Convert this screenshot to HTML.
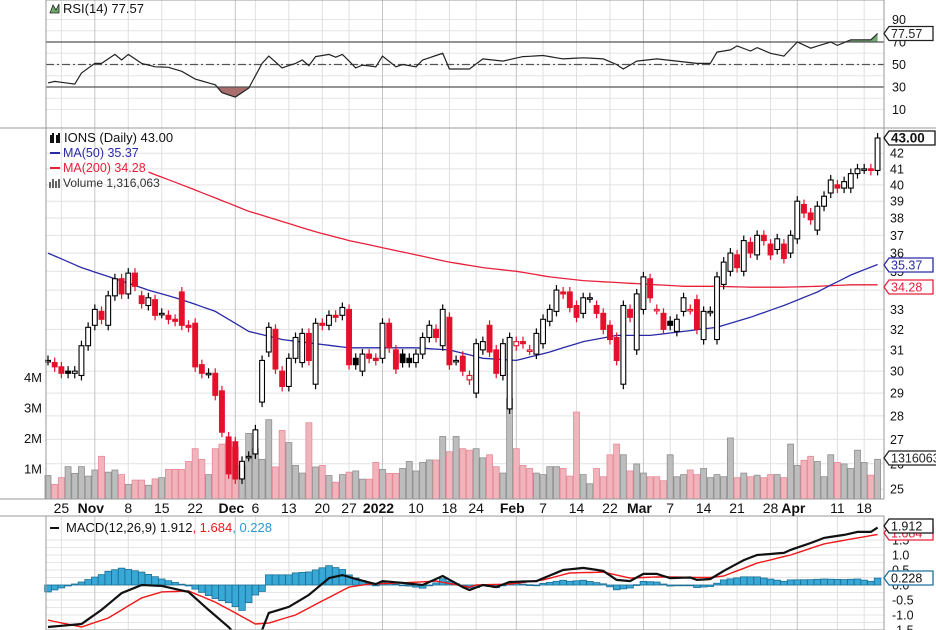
<!DOCTYPE html>
<html><head><meta charset="utf-8"><style>
html,body{margin:0;padding:0;background:#fff;}
svg{display:block;font-family:"Liberation Sans",sans-serif;}
</style></head><body>
<svg id="chart" width="936" height="630" viewBox="0 0 936 630" xmlns="http://www.w3.org/2000/svg">
<g id="grid"></g>
<g id="vol"></g>
<g id="price"></g>
<g id="rsi"></g>
<g id="macd"></g>
<g id="axes"></g>
</svg>
<script>
const opens=[30.5,30.4,30.2,30.0,29.9,29.8,31.2,32.2,32.9,32.2,33.7,34.6,33.8,34.9,33.7,33.2,33.5,32.8,32.7,32.5,33.9,32.2,32.3,30.3,29.9,29.9,29.1,27.1,26.9,25.4,26.3,26.4,28.6,30.9,32.0,30.0,29.3,30.6,30.4,31.8,29.4,32.3,32.2,32.7,32.7,33.0,30.6,30.0,30.8,30.6,30.6,32.3,31.0,30.8,30.6,30.4,30.8,31.6,32.0,31.2,32.6,30.5,30.7,29.6,29.0,31.0,32.2,31.0,29.8,28.3,31.2,31.4,31.0,30.8,31.3,32.4,32.9,33.9,33.9,33.2,32.8,33.6,33.2,32.8,32.2,31.6,29.4,33.0,31.0,33.0,34.6,33.0,32.8,32.4,31.9,32.9,33.0,33.5,31.5,32.9,31.5,34.3,35.0,35.9,35.0,36.6,35.9,37.0,36.5,36.2,36.5,36.0,36.8,38.8,38.3,37.3,38.7,39.5,40.0,39.8,39.8,40.7,41.0,41.0,40.9];
const closes=[30.5,30.2,29.9,29.9,30.0,31.2,32.1,33.0,32.5,33.7,34.6,33.8,34.9,34.2,33.3,33.6,32.7,32.8,32.5,32.4,32.2,32.1,30.2,29.9,29.9,28.9,27.3,25.6,25.4,26.1,26.3,27.4,30.5,32.1,30.1,29.3,30.6,31.6,31.8,30.5,32.3,32.2,32.7,32.6,33.1,30.3,30.3,30.8,30.6,30.5,32.3,31.1,30.1,30.4,30.4,30.8,31.6,32.2,31.6,33.0,30.3,30.5,30.0,29.8,31.3,31.4,30.9,29.9,31.3,31.6,31.4,31.3,31.0,31.8,32.5,33.0,34.0,33.8,33.1,32.6,33.6,33.6,32.8,32.0,31.5,30.5,33.2,32.6,33.8,34.7,33.6,33.0,32.0,32.2,32.5,33.6,33.0,32.0,32.9,32.9,34.7,35.5,36.0,35.2,36.7,36.0,37.0,36.7,35.9,36.8,35.7,37.0,39.0,38.3,37.9,38.7,39.3,40.3,39.8,40.2,40.7,41.0,41.0,40.9,43.0];
const volumes=[.77,.48,.7,1.06,.84,1.06,.75,.95,1.4,.88,.95,.8,.48,.62,.62,.45,.66,.7,.97,.97,.97,1.23,1.65,1.3,.8,1.65,1.8,1.9,1.7,1.1,2.15,1.65,1.3,2.6,1.05,2.25,1.85,1.1,.85,2.5,1.05,1.1,.77,.55,.8,.88,.92,.65,.65,1.2,.97,.84,.84,1.0,1.23,.92,1.2,1.28,1.28,2.05,1.55,2.05,1.65,
1.6,1.65,1.35,1.45,1.06,.85,3.3,1.65,1.1,1.0,.85,.8,1.06,1.06,1.0,.75,2.85,.8,.5,1.0,.73,1.45,1.8,1.45,.92,1.15,.85,.73,.73,.6,1.45,.73,.8,.95,.8,1.0,.7,.8,.73,2.0,.7,.85,.73,.78,.7,.8,.8,.7,1.8,1.1,1.27,1.4,1.23,.73,1.45,1.2,1.15,1.0,1.6,1.2,.78,1.3];
const ma50Bar=[0,5,10,15,20,25,30,35,40,45,50,55,60,65,70,75,80,85,90,95,100,105,110,115,120,124];
const ma50Val=[36.0,35.2,34.6,34.0,33.5,32.9,31.9,31.5,31.3,31.1,31.1,31.1,31.0,30.6,30.5,30.9,31.4,31.7,31.7,31.9,32.1,32.6,33.2,33.9,34.8,35.37];
const ma200Bar=[15,20,25,30,35,40,45,50,55,60,65,70,75,80,85,90,95,100,105,110,115,120,124];
const ma200Val=[40.8,40.0,39.2,38.4,37.8,37.2,36.7,36.3,35.9,35.5,35.2,35.0,34.7,34.5,34.4,34.3,34.2,34.2,34.15,34.15,34.2,34.28,34.28];
const rsiBar=[0,1,4,5,7,8,10,11,12,14,16,18,20,22,25,26,28,30,32,33,35,37,38,39,40,42,43,44,46,47,49,50,52,53,55,56,59,60,63,65,68,71,74,77,80,83,85,86,88,91,94,97,99,100,102,103,105,106,108,110,112,114,117,118,120,123,124];
const rsiVal=[33.6,35,32.6,42.4,51,51,59,54,59,51,48,47.5,44,37,32,25,21,29,51,57.5,47,51,54,49,57,59,56.5,59,47,49.5,48,57.5,48,50,48,54,60,46,46,55,53,57,58,55,56,55,50,46,53,55,53,51,51,61,63,66.5,62,65,60,57.5,70,64.5,70,67,72,72,77.57];
const macdBar=[0,5,8,11,14,17,21,24,27,29,32,33,36,39,42,44,46,49,50,53,56,59,62,63,65,67,69,73,77,80,83,85,87,89,91,93,96,97,99,101,104,106,110,111,114,116,119,121,123,124];
const macdVal=[-1.4,-1.3,-0.83,-0.27,0,-0.03,-0.23,-0.83,-1.4,-1.9,-1.5,-0.93,-0.73,-0.33,0.23,0.33,0.2,0.03,0.13,0.07,0,0.3,-0.07,-0.17,0,-0.07,0.1,0.13,0.5,0.57,0.47,0.17,0.13,0.37,0.37,0.23,0.25,0.17,0.2,0.47,0.83,1.0,1.07,1.17,1.4,1.57,1.67,1.77,1.77,1.912];
const sigBar=[0,5,9,14,17,21,25,28,31,33,37,41,45,48,53,58,63,64,69,74,78,83,87,91,99,101,106,111,116,121,124];
const sigVal=[-1.17,-1.4,-1.1,-0.43,-0.23,-0.2,-0.57,-0.93,-1.3,-1.27,-1.0,-0.53,-0.07,0.03,0.07,0.13,-0.07,0,0.03,0.17,0.4,0.43,0.23,0.27,0.25,0.3,0.73,1.0,1.37,1.57,1.684];
const dateBar=[2,7,12,17,22,28,31,36,41,45,50,55,60,64,70,74,79,84,89,93,98,103,108,112,118,122];
const dateLbl=["25","Nov","8","15","22","Dec","6","13","20","27","2022","10","18","24","Feb","7","14","22","Mar","7","14","21","28","Apr","11","18"];
const dateMajor=[0,1,0,0,0,1,0,0,0,0,1,0,0,0,1,0,0,0,1,0,0,0,0,1,0,0];
const priceTicks=[25,26,27,28,29,30,31,32,33,34,35,36,37,38,39,40,41,42];
const volTicks=[1,2,3,4];
const rsiTicks=[90,70,50,30,10];
const macdTicks=[1.5,1.0,0.5,0.0,-0.5,-1.0,-1.5];

const NS="http://www.w3.org/2000/svg";
const L=46,R=884;
const xOf=i=>48+i*6.69;
const yP=v=>138+(Math.log(43)-Math.log(v))*647.6;
const yV=m=>499-m*30.5;
const yR=v=>42+(70-v)*1.125;
const yM=v=>585-v*30;
function mk(tag,attrs,parent){const e=document.createElementNS(NS,tag);for(const k in attrs)e.setAttribute(k,attrs[k]);parent.appendChild(e);return e;}
function interp(bars,vals,i){if(i<=bars[0])return vals[0];for(let k=1;k<bars.length;k++){if(i<=bars[k]){const t=(i-bars[k-1])/(bars[k]-bars[k-1]);return vals[k-1]+t*(vals[k]-vals[k-1]);}}return vals[vals.length-1];}
const G=id=>document.getElementById(id);
const grid=G('grid'),axes=G('axes');

priceTicks.forEach(v=>{const l=mk('line',{x1:L,x2:R,y1:yP(v),y2:yP(v),stroke:'#e2e2e2'},grid);});
for(let v=10;v<=90;v+=10){const l=mk('line',{x1:L,x2:R,y1:yR(v),y2:yR(v),stroke:'#e6e6e6'},grid);}
for(let v=-1.5;v<=1.6;v+=0.25){const l=mk('line',{x1:L,x2:R,y1:yM(v),y2:yM(v),stroke:'#e6e6e6'},grid);}
dateBar.forEach((b,k)=>{[[0,128],[128,499],[516,630]].forEach(s=>{const l=mk('line',{x1:xOf(b),x2:xOf(b),y1:s[0],y2:s[1],stroke:dateMajor[k]?'#c4c4c4':'#e0e0e0'},grid);});});

const vg=G('vol');
volumes.forEach((m,i)=>{const down=i>0&&closes[i]<closes[i-1];const r=mk('rect',{x:xOf(i)-3,y:yV(m),width:6,height:499-yV(m),fill:down?'#f2b4bc':'#bdbdbd',stroke:down?'#e58b97':'#8e8e8e','stroke-width':0.8},vg);});

const pg=G('price');
function poly(bars,vals,yf,color,name,parent,w){let d='';for(let i=bars[0];i<=bars[bars.length-1];i++){d+=(d?'L':'M')+xOf(i).toFixed(1)+','+yf(interp(bars,vals,i)).toFixed(1);}const p=mk('path',{d:d,fill:'none',stroke:color,'stroke-width':w||1.3},parent);return p;}
poly(ma200Bar,ma200Val,yP,'#e8203a','ma200-line',pg);
poly(ma50Bar,ma50Val,yP,'#2a2aa8','ma50-line',pg);
closes.forEach((c,i)=>{const o=opens[i];const down=i>0&&c<closes[i-1];const filled=c<o;const col=down?'#e4102c':'#000';const hi=Math.max(o,c),lo=Math.min(o,c);const x=xOf(i);
const w=mk('line',{x1:x,x2:x,y1:yP(hi)-5,y2:yP(lo)+5,stroke:col,'stroke-width':1.2},pg);
const h=Math.max(1.5,yP(lo)-yP(hi));const r=mk('rect',{x:x-2.4,y:yP(hi),width:4.8,height:h,fill:filled?col:'#fff',stroke:col,'stroke-width':1.1},pg);});

const rg=G('rsi');
const ca=mk('clipPath',{id:'above70'},rg);mk('rect',{x:0,y:0,width:936,height:yR(70)},ca);
const cb=mk('clipPath',{id:'below30'},rg);mk('rect',{x:0,y:yR(30),width:936,height:50},cb);
let rd='';for(let i=rsiBar[0];i<=rsiBar[rsiBar.length-1];i++){rd+=(rd?'L':'M')+xOf(i).toFixed(1)+','+yR(interp(rsiBar,rsiVal,i)).toFixed(1);}
const fa=mk('path',{d:rd+'L'+xOf(124)+','+yR(70)+'L'+xOf(0)+','+yR(70)+'Z',fill:'#6ea86e','clip-path':'url(#above70)'},rg);
const fb=mk('path',{d:rd+'L'+xOf(124)+','+yR(30)+'L'+xOf(0)+','+yR(30)+'Z',fill:'#a86e6e','clip-path':'url(#below30)'},rg);
[[70,''],[30,''],[50,'8,3,2,3']].forEach(a=>{const l=mk('line',{x1:L,x2:R,y1:yR(a[0]),y2:yR(a[0]),stroke:'#555','stroke-width':1.2,'stroke-dasharray':a[1]},rg);});
const rl=mk('path',{d:rd,fill:'none',stroke:'#222','stroke-width':1.2},rg);

const mg=G('macd');
for(let i=0;i<closes.length;i++){const hv=interp(macdBar,macdVal,i)-interp(sigBar,sigVal,i);const y0=yM(0),y1=yM(hv);const r=mk('rect',{x:xOf(i)-3.3,y:Math.min(y0,y1),width:6.6,height:Math.max(0.8,Math.abs(y1-y0)),fill:'#38a9d6',stroke:'#1c6f96','stroke-width':0.8},mg);}
poly(sigBar,sigVal,yM,'#f01818','macd-signal-line',mg,1.4);
poly(macdBar,macdVal,yM,'#111','macd-line',mg,2.2);

[[0,128],[128,499],[516,630]].forEach(s=>{const r=mk('rect',{x:L,y:s[0],width:R-L,height:s[1]-s[0],fill:'none',stroke:'#9a9a9a','stroke-width':1},axes);});
mk('line',{x1:0,x2:936,y1:128,y2:128,stroke:'#9a9a9a'},axes);
mk('line',{x1:0,x2:R,y1:516,y2:516,stroke:'#9a9a9a'},axes);
mk('line',{x1:0,x2:R,y1:499,y2:499,stroke:'#9a9a9a'},axes);

function txt(s,x,y,attrs,name){const t=mk('text',Object.assign({x:x,y:y,'font-size':12,fill:'#111'},attrs||{}),axes);t.textContent=s;return t;}
priceTicks.forEach(v=>txt(String(v),890,yP(v)+4.5,{'font-size':12.5},'price-tick-label'));
rsiTicks.forEach(v=>txt(String(v),892,yR(v)+4.5,{'font-size':12.5},'rsi-tick-label'));
volTicks.forEach(v=>txt(v+'M',42,yV(v)+5,{'font-size':13,'text-anchor':'end'},'volume-tick-label'));
macdTicks.forEach(v=>txt(v.toFixed(1),892,yM(v)+4.5,{'font-size':12.5},'macd-tick-label'));
dateBar.forEach((b,k)=>txt(dateLbl[k],xOf(b)-(dateMajor[k]?4:0),513,{'font-size':14,'text-anchor':'middle','font-weight':dateMajor[k]?'bold':'normal'},'date-label'));

function badge(s,y,color,bold,name,w0){const w=w0||(bold?46:44);const p=mk('path',{d:`M884,${y} L889,${y-7} L${889+w},${y-7} L${889+w},${y+7} L889,${y+7} Z`,fill:'#fff',stroke:color,'stroke-width':1.3},axes);txt(s,891,y+4.5,{'font-size':bold?13.5:12.5,'font-weight':bold?'bold':'normal',fill:color==='#1a6fa0'?'#111':color},name);}
badge('77.57',yR(77.57),'#222',false,'rsi-last-value');
badge('43.00',138,'#111',true,'price-last-value');
badge('35.37',265,'#2a2aa8',false,'ma50-last-value');
badge('34.28',287,'#e8203a',false,'ma200-last-value');
badge('1316063',458,'#222',false,'volume-last-value',50);
badge('1.684',533,'#e8203a',false,'signal-last-value');
badge('1.912',526,'#111',false,'macd-last-value');
badge('0.228',578,'#1a6fa0',false,'hist-last-value');

const lg=mk('g',{},axes);
const ic=mk('path',{d:'M50,13 L53,5 L56,10 L59,4 L59,13 Z',fill:'#6ea86e',stroke:'#222','stroke-width':0.8},lg);
txt('RSI(14) 77.57',63,13,{'font-size':13},'rsi-title');
txt('IONS (Daily) 43.00',64,142,{'font-size':13},'price-title');
const ci=mk('path',{d:'M51,135 v8 M53,133 v10 M57,135 v8 M59,133 v10',stroke:'#111','stroke-width':2},lg);
mk('line',{x1:50,x2:60,y1:153,y2:153,stroke:'#2a2aa8','stroke-width':2},lg);
txt('MA(50) 35.37',63,157,{'font-size':12.5,fill:'#2a2aa8'},'ma50-legend');
mk('line',{x1:50,x2:60,y1:168,y2:168,stroke:'#e8203a','stroke-width':2},lg);
txt('MA(200) 34.28',63,172,{'font-size':12.5,fill:'#e8203a'},'ma200-legend');
const vi=mk('path',{d:'M50,188 v-6 M53,188 v-9 M56,188 v-7 M59,188 v-9',stroke:'#666','stroke-width':2},lg);
txt('Volume 1,316,063',63,187,{'font-size':12,fill:'#333'},'volume-legend');
mk('line',{x1:50,x2:59,y1:528,y2:528,stroke:'#111','stroke-width':2},lg);
const mt=txt('',66,532,{'font-size':13},'macd-title');
[['MACD(12,26,9) 1.912','#111'],[', 1.684','#f01818'],[', 0.228','#2a9ad6']].forEach(a=>{const s=document.createElementNS(NS,'tspan');s.setAttribute('fill',a[1]);s.textContent=a[0];mt.appendChild(s);});
</script>
</body></html>
